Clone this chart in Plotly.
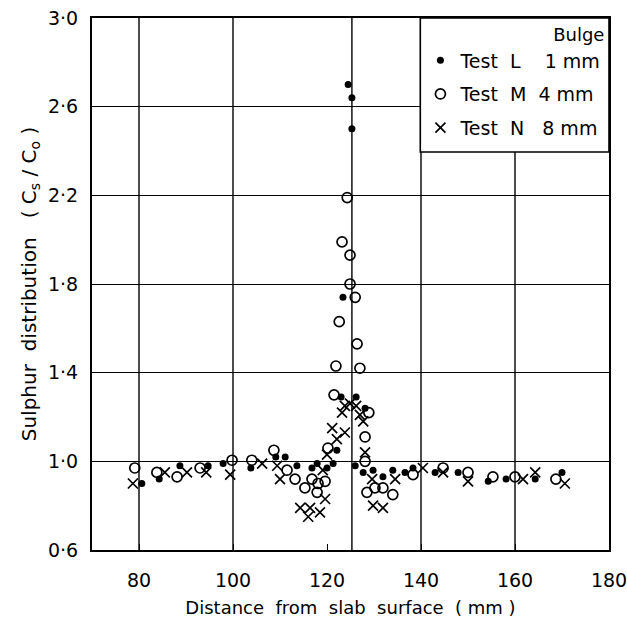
import plotly.graph_objects as go

# Test L (bulge 1 mm) - filled dots
L_x = [80.6, 84.3, 88.7, 94.7, 97.9, 103.8, 109.1, 111.1, 113.6, 116.8, 117.9, 120.0, 121.3,
       122.1, 123.0, 126.2, 128.1, 123.4, 124.5, 125.3, 125.3, 126.0, 127.7, 129.8, 131.9,
       134.0, 136.6, 138.3, 143.0, 147.9, 154.3, 158.1, 164.3, 170.0]
L_y = [0.90, 0.92, 0.98, 0.98, 0.99, 0.97, 1.02, 1.02, 0.98, 0.97, 0.99, 0.97, 0.99,
       1.05, 1.29, 1.29, 1.24, 1.74, 2.70, 2.64, 2.50, 0.98, 0.95, 0.96, 0.93,
       0.96, 0.95, 0.97, 0.95, 0.95, 0.91, 0.92, 0.92, 0.95]

# Test M (bulge 4 mm) - open circles
M_x = [79.1, 83.8, 88.1, 93.0, 99.8, 104.0, 108.7, 111.5, 113.2, 115.3, 116.8, 117.9, 118.1,
       119.6, 120.2, 121.5, 121.9, 122.6, 123.2, 124.3, 124.9, 124.9, 126.0, 126.4, 127.0,
       128.1, 128.9, 128.1, 128.5, 130.2, 131.9, 134.0, 138.3, 144.7, 150.0, 155.3, 160.0, 168.7]
M_y = [0.97, 0.95, 0.93, 0.97, 1.005, 1.005, 1.05, 0.96, 0.92, 0.88, 0.92, 0.86, 0.90,
       0.91, 1.06, 1.30, 1.43, 1.63, 1.99, 2.19, 1.93, 1.80, 1.74, 1.53, 1.42,
       1.11, 1.22, 1.00, 0.86, 0.88, 0.88, 0.85, 0.94, 0.97, 0.95, 0.93, 0.93, 0.92]

# Test N (bulge 8 mm) - crosses
N_x = [78.7, 85.5, 90.2, 94.3, 99.4, 106.2, 109.4, 110.0, 114.3, 116.0, 116.4, 118.5, 119.1,
       119.6, 120.0, 121.1, 122.1, 123.2, 123.8, 123.8, 124.9, 126.2, 127.0, 127.7, 128.1,
       129.6, 129.8, 131.9, 134.5, 140.4, 144.7, 150.0, 161.7, 164.3, 170.6]
N_y = [0.90, 0.95, 0.95, 0.95, 0.94, 0.99, 0.98, 0.92, 0.79, 0.75, 0.79, 0.77, 0.96,
       0.83, 1.03, 1.15, 1.10, 1.22, 1.13, 1.25, 1.26, 1.25, 1.21, 1.18, 1.04,
       0.92, 0.80, 0.79, 0.92, 0.97, 0.95, 0.91, 0.92, 0.95, 0.90]

x_ticks = [80, 100, 120, 140, 160, 180]
x_tick_labels = ["80", "100", "120", "140", "160", "180"]
y_ticks = [0.6, 1.0, 1.4, 1.8, 2.2, 2.6, 3.0]
y_tick_labels = ["0·6", "1·0", "1·4", "1·8", "2·2", "2·6", "3·0"]
x_grid = [80, 100, 140, 160]
center_x = 125.3

FONT = "DejaVu Sans"

fig = go.Figure()
fig.add_trace(go.Scatter(x=L_x, y=L_y, mode="markers", name="Test  L    1 mm", legendgroup="L",
                         marker=dict(symbol="circle", size=7, color="black")))
fig.add_trace(go.Scatter(x=M_x, y=M_y, mode="markers", name="Test  M  4 mm", legendgroup="M",
                         marker=dict(symbol="circle-open", size=10, color="black",
                                     line=dict(width=1.7, color="black"))))
fig.add_trace(go.Scatter(x=N_x, y=N_y, mode="markers", name="Test  N   8 mm", legendgroup="N",
                         marker=dict(symbol="x-thin-open", size=10, color="black",
                                     line=dict(width=1.7, color="black"))))

shapes = []
for gx in x_grid:
    shapes.append(dict(type="line", xref="x", yref="paper", x0=gx, x1=gx, y0=0, y1=1,
                       line=dict(color="black", width=1.4), layer="below"))
shapes.append(dict(type="line", xref="x", yref="paper", x0=center_x, x1=center_x, y0=0, y1=1,
                   line=dict(color="black", width=1.4), layer="below"))
# legend box
shapes.append(dict(type="rect", xref="paper", yref="paper", x0=0.635, x1=1.0, y0=0.748, y1=1.0,
                   fillcolor="white", line=dict(color="black", width=1.6), layer="above"))

fig.update_layout(
    width=627, height=628,
    margin=dict(l=92, r=18, t=18, b=78, autoexpand=False),
    paper_bgcolor="white", plot_bgcolor="white",
    font=dict(family=FONT, color="black", size=17),
    shapes=shapes,
    showlegend=True,
    legend=dict(x=0.995, y=1.0, xanchor="right", yanchor="top",
                bgcolor="rgba(0,0,0,0)", borderwidth=0,
                font=dict(family=FONT, size=19, color="black"),
                title=dict(text="Bulge", side="top right", font=dict(family=FONT, size=18)),
                itemwidth=30, tracegroupgap=6),
    xaxis=dict(range=[70, 180], tickvals=x_ticks, ticktext=x_tick_labels, automargin=False,
               showgrid=False, zeroline=False, showline=True, mirror=True,
               linecolor="black", linewidth=2, ticks="inside", ticklen=6, tickcolor="black",
               tickfont=dict(size=19), ticklabelstandoff=12, ticklabeloverflow="allow",
               title=dict(text="Distance  from  slab  surface  ( mm )", font=dict(size=18), standoff=12)),
    yaxis=dict(range=[0.6, 3.0], tickvals=y_ticks, ticktext=y_tick_labels, automargin=False,
               showgrid=True, gridcolor="black", gridwidth=1.4, zeroline=False,
               showline=True, mirror=True, linecolor="black", linewidth=2,
               ticks="", tickfont=dict(size=19), ticklabelstandoff=8,
               title=dict(text="Sulphur  distribution   ( C<sub>s</sub> / C<sub>o</sub> )",
                          font=dict(size=20), standoff=6)),
)

fig.write_html("out.html")
